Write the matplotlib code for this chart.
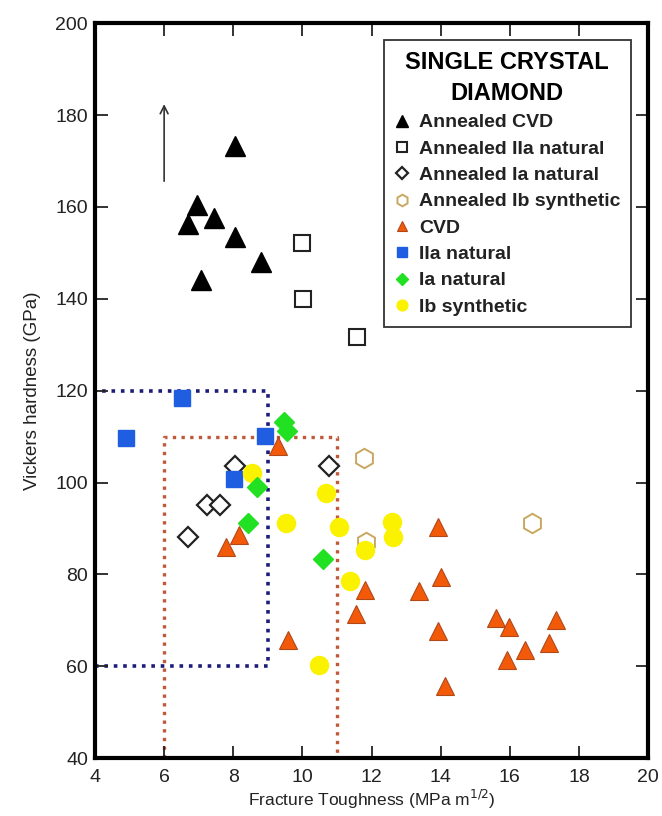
import matplotlib
matplotlib.use("Agg")
import matplotlib.pyplot as plt

plt.rcParams['font.family'] = ['Liberation Sans', 'DejaVu Sans']

# data (fracture toughness, hardness)
annealed_cvd_x = [8.05, 6.96, 7.44, 6.70, 8.05, 8.80, 7.07]
annealed_cvd_y = [173.3, 160.5, 157.7, 156.3, 153.4, 148.0, 144.1]

annealed_iia_x = [9.98, 10.03, 11.57]
annealed_iia_y = [152.2, 140.0, 131.7]

annealed_ia_x = [8.05, 7.25, 7.62, 6.68, 10.78]
annealed_ia_y = [103.7, 95.0, 95.0, 88.1, 103.7]

annealed_ib_x = [11.77, 11.84, 16.64]
annealed_ib_y = [105.4, 87.0, 91.2]

cvd_x = [9.28, 8.18, 7.79, 11.81, 11.55, 9.57, 13.93, 14.01, 13.37, 13.93, 14.13,
         15.60, 15.99, 17.34, 17.14, 16.44, 15.91]
cvd_y = [108.0, 88.5, 85.9, 76.7, 71.4, 65.8, 90.3, 79.5, 76.4, 67.6, 55.7,
         70.6, 68.5, 70.1, 65.0, 63.5, 61.3]

iia_x = [6.51, 4.90, 8.92, 8.03]
iia_y = [118.4, 109.6, 110.2, 100.8]

ia_x = [9.47, 9.55, 8.69, 8.42, 10.59]
ia_y = [113.2, 111.3, 99.1, 91.2, 83.4]

ib_x = [8.53, 10.67, 9.52, 11.07, 11.82, 11.38, 12.58, 12.63, 10.49]
ib_y = [102.0, 97.7, 91.1, 90.3, 85.3, 78.6, 91.4, 88.1, 60.2]

# dotted boxes
blue_box_x = [4, 9, 9, 4]
blue_box_y = [60, 60, 120, 120]
red_box_x = [6, 6, 11, 11]
red_box_y = [40, 110, 110, 40]

arrow_x = 6
arrow_y = [165, 183]

fig = plt.figure(figsize=(6.62, 8.16), dpi=100)
ax = fig.add_axes([0.1435, 0.071, 0.8355, 0.9005])

ax.plot(blue_box_x, blue_box_y, color='#1c1c7a', lw=2.6, ls=(0, (1, 1.6)), zorder=1, clip_on=False)
ax.plot(red_box_x, red_box_y, color='#c0583a', lw=2.4, ls=(0, (1, 1.6)), zorder=1, clip_on=False)

ax.annotate('', xy=(arrow_x, arrow_y[1]), xytext=(arrow_x, arrow_y[0]),
            arrowprops=dict(arrowstyle='->', color='#333333', lw=1.2, mutation_scale=14))

ax.plot(annealed_cvd_x, annealed_cvd_y, '^', ms=15, mfc='black', mec='black', ls='none',
        label='Annealed CVD', zorder=3)
ax.plot(annealed_iia_x, annealed_iia_y, 's', ms=12, mfc='white', mec='#222222', mew=1.5, ls='none',
        label='Annealed IIa natural', zorder=3)
ax.plot(annealed_ia_x, annealed_ia_y, 'D', ms=10, mfc='white', mec='#222222', mew=1.6, ls='none',
        label='Annealed Ia natural', zorder=3)
ax.plot(annealed_ib_x, annealed_ib_y, 'h', ms=14, mfc='white', mec='#c8a860', mew=1.4, ls='none',
        label='Annealed Ib synthetic', zorder=3)
ax.plot(cvd_x, cvd_y, '^', ms=13, mfc='#f25a0a', mec='#b04818', mew=0.8, ls='none',
        label='CVD', zorder=4)
ax.plot(iia_x, iia_y, 's', ms=12, mfc='#1f5ee0', mec='#1f5ee0', ls='none',
        label='IIa natural', zorder=3)
ax.plot(ia_x, ia_y, 'D', ms=10, mfc='#22e022', mec='#22e022', ls='none',
        label='Ia natural', zorder=5)
ax.plot(ib_x, ib_y, 'o', ms=13, mfc='#fbf200', mec='#fbf200', ls='none',
        label='Ib synthetic', zorder=4)

ax.set_xlim(4, 20)
ax.set_ylim(40, 200)
ax.set_xticks(range(4, 21, 2))
ax.set_yticks(range(40, 201, 20))
ax.tick_params(direction='in', length=9, width=1.3, top=True, right=True,
               labelsize=14, colors='#222222')
ax.tick_params(axis='x', pad=8)
ax.tick_params(axis='y', pad=5)
for s in ax.spines.values():
    s.set_linewidth(3)
    s.set_color('black')

ax.set_xlabel('Fracture Toughness (MPa m$^{1/2}$)', fontsize=12.5, labelpad=1, color='#222222')
ax.set_ylabel('Vickers hardness (GPa)', fontsize=13.5, labelpad=10, color='#222222')

leg = ax.legend(loc='upper right', bbox_to_anchor=(0.969, 0.977), borderaxespad=0,
                title='SINGLE CRYSTAL\nDIAMOND', fancybox=False, framealpha=1,
                edgecolor='#333333', handlelength=0.8, handletextpad=0.45,
                labelspacing=0.45, borderpad=0.55, markerscale=0.6,
                prop={'size': 14, 'weight': 'bold'},
                title_fontproperties={'size': 17, 'weight': 'bold'})
leg.get_frame().set_linewidth(1.3)
leg.get_title().set_multialignment('center')
leg.get_title().set_linespacing(1.45)
for t in leg.get_texts():
    t.set_color('#222222')

fig.savefig('out.png', dpi=100)
